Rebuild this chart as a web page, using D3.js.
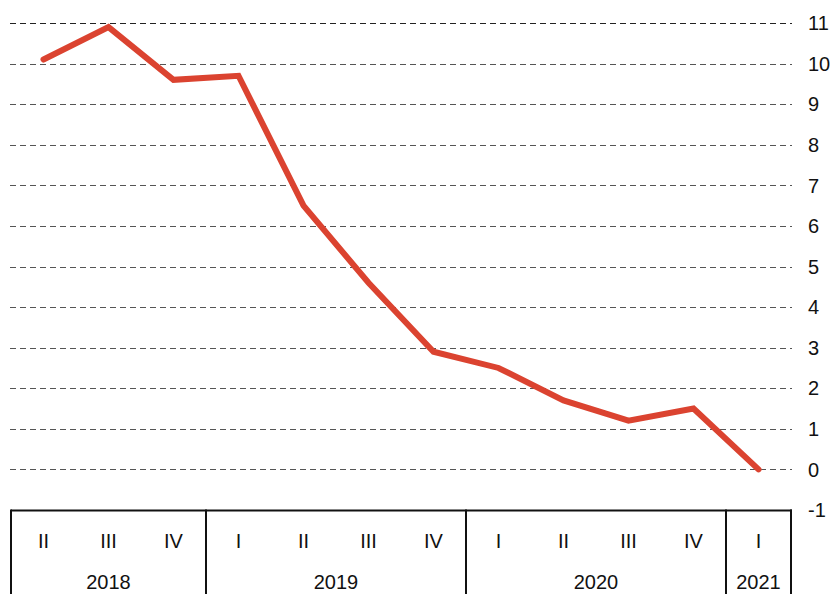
<!DOCTYPE html>
<html>
<head>
<meta charset="utf-8">
<script src="https://cdn.jsdelivr.net/npm/d3@7"></script>
<style>
  body { margin: 0; background: #fff; }
  text { font-family: "Liberation Sans", Arial, sans-serif; }
</style>
</head>
<body>
<svg id="chart" width="832" height="594"></svg>
<script>
// quarters shown on the axis and the year each belongs to
let quarters = ['II', 'III', 'IV', 'I', 'II', 'III', 'IV', 'I', 'II', 'III', 'IV', 'I']
let years    = ['2018', '2018', '2018', '2019', '2019', '2019', '2019', '2020', '2020', '2020', '2020', '2021']
let values   = [10.1, 10.9, 9.6, 9.7, 6.5, 4.6, 2.9, 2.5, 1.7, 1.2, 1.5, 0]
let yTicks   = [-1, 0, 1, 2, 3, 4, 5, 6, 7, 8, 9, 10, 11]

let width = 832
let height = 594
let left = 11, right = 791

let svg = d3.select('#chart')

let x = d3.scaleBand()
  .domain(d3.range(values.length))
  .range([left, right])
  .padding(0)

let y = d3.scaleLinear()
  .domain([-1, 11])
  .range([510, 23])

// dashed gridlines, 0..11
svg.append('g')
  .selectAll('line')
  .data(yTicks.filter(d => d >= 0))
  .enter()
  .append('line')
  .attr('x1', left - 1)
  .attr('x2', right + 1)
  .attr('y1', d => Math.round(y(d)) + 0.5)
  .attr('y2', d => Math.round(y(d)) + 0.5)
  .attr('stroke', d => d === 11 ? '#222' : '#555')
  .attr('stroke-width', 1)
  .attr('stroke-dasharray', '6,4')

// right axis labels
svg.append('g')
  .selectAll('text')
  .data(yTicks)
  .enter()
  .append('text')
  .attr('x', 808)
  .attr('y', d => y(d))
  .attr('dy', '0.36em')
  .attr('font-size', 20)
  .attr('fill', '#111')
  .text(d => d)

// category box
let boxTop = Math.round(y(-1)) + 0.5
let boxG = svg.append('g')
  .attr('stroke', '#111')
  .attr('stroke-width', 2)
  .attr('fill', 'none')

boxG.append('line')
  .attr('x1', left).attr('x2', right + 1)
  .attr('y1', boxTop).attr('y2', boxTop)

// year groups
let yearGroups = d3.groups(d3.range(years.length), i => years[i])
let edges = [left]
yearGroups.forEach(g => edges.push(x(g[1][g[1].length - 1]) + x.bandwidth()))

boxG.selectAll('line.sep')
  .data(edges)
  .enter()
  .append('line')
  .attr('class', 'sep')
  .attr('x1', d => d)
  .attr('x2', d => d)
  .attr('y1', boxTop - 1)
  .attr('y2', height + 2)

svg.append('g')
  .selectAll('text')
  .data(quarters)
  .enter()
  .append('text')
  .attr('x', (d, i) => x(i) + x.bandwidth() / 2)
  .attr('y', 548)
  .attr('text-anchor', 'middle')
  .attr('font-size', 20)
  .attr('fill', '#111')
  .text(d => d)

svg.append('g')
  .selectAll('text')
  .data(yearGroups)
  .enter()
  .append('text')
  .attr('x', g => (x(g[1][0]) + x(g[1][g[1].length - 1]) + x.bandwidth()) / 2)
  .attr('y', 589)
  .attr('text-anchor', 'middle')
  .attr('font-size', 20)
  .attr('fill', '#111')
  .text(g => g[0])

// the series line
let line = d3.line()
  .x((d, i) => x(i) + x.bandwidth() / 2)
  .y(d => y(d))

svg.append('path')
  .datum(values)
  .attr('d', line)
  .attr('fill', 'none')
  .attr('stroke', '#db4330')
  .attr('stroke-width', 6)
  .attr('stroke-linejoin', 'miter')
  .attr('stroke-linecap', 'round')
</script>
</body>
</html>
